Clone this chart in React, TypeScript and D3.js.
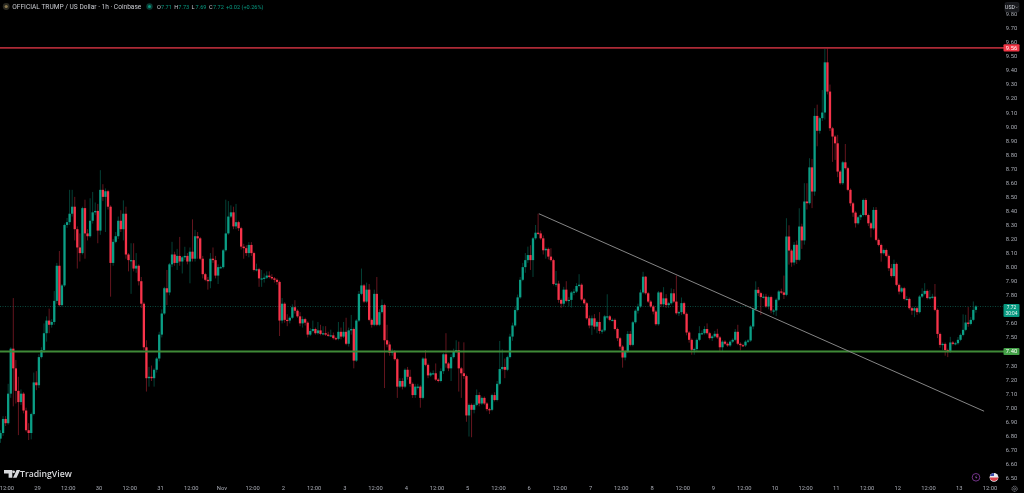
import React from "react";
import * as d3 from "d3";

const firstOpen = 6.78;
const closes = [
6.82,6.92,6.89,7.10,7.42,7.28,7.12,7.04,7.10,6.98,
6.84,6.82,6.955,7.18,7.16,7.36,7.41,7.53,7.62,7.59,
7.61,7.76,8.01,7.73,7.87,8.30,8.32,8.38,8.43,8.27,
8.14,8.10,8.42,8.24,8.22,8.33,8.39,8.40,8.26,8.55,
8.50,8.54,8.43,8.03,8.18,8.22,8.33,8.27,8.38,8.09,
8.05,8.05,7.99,8.01,7.90,7.74,7.43,7.21,7.22,7.21,
7.27,7.35,7.52,7.67,7.85,7.82,8.02,8.09,8.03,8.08,
8.04,8.07,8.08,8.04,8.11,8.06,8.22,8.205,8.06,7.95,
7.91,7.90,8.06,8.05,7.94,8.00,8.00,8.12,8.24,8.36,
8.39,8.29,8.32,8.277,8.146,8.135,8.10,8.158,8.10,7.98,
7.985,7.92,7.92,7.925,7.94,7.93,7.92,7.91,7.895,7.62,
7.74,7.625,7.62,7.64,7.715,7.69,7.65,7.60,7.63,7.605,
7.52,7.546,7.56,7.53,7.55,7.525,7.53,7.52,7.515,7.515,
7.495,7.49,7.54,7.506,7.54,7.455,7.55,7.56,7.335,7.62,
7.81,7.87,7.755,7.84,7.625,7.59,7.81,7.59,7.68,7.73,
7.48,7.45,7.39,7.40,7.345,7.15,7.19,7.15,7.27,7.22,
7.17,7.09,7.15,7.15,7.07,7.35,7.305,7.23,7.245,7.245,
7.20,7.19,7.26,7.38,7.315,7.28,7.36,7.40,7.41,7.28,
7.245,7.225,6.945,7.02,6.985,7.02,7.09,7.03,7.07,7.03,
6.99,6.985,7.09,7.055,7.17,7.275,7.29,7.27,7.36,7.506,
7.585,7.695,7.785,7.91,8.0,8.05,8.086,8.05,8.205,8.245,
8.24,8.205,8.12,8.13,8.075,8.05,7.88,7.883,7.767,7.74,
7.84,7.76,7.767,7.82,7.826,7.866,7.875,7.77,7.743,7.636,
7.585,7.636,7.577,7.61,7.546,7.55,7.65,7.65,7.625,7.625,
7.56,7.494,7.435,7.357,7.40,7.525,7.447,7.608,7.69,7.72,
7.82,7.932,7.814,7.755,7.72,7.684,7.594,7.82,7.736,7.778,
7.73,7.743,7.814,7.755,7.672,7.68,7.744,7.668,7.535,7.483,
7.412,7.417,7.483,7.53,7.53,7.56,7.53,7.495,7.507,7.526,
7.50,7.43,7.47,7.455,7.443,7.47,7.483,7.54,7.455,7.445,
7.443,7.47,7.478,7.578,7.70,7.839,7.815,7.787,7.79,7.72,
7.787,7.692,7.692,7.768,7.827,7.82,7.803,8.218,8.118,8.033,
8.159,8.052,8.289,8.19,8.467,8.455,8.71,8.538,9.076,8.97,
9.06,9.10,9.457,9.249,8.988,8.929,8.881,8.68,8.597,8.746,
8.704,8.55,8.454,8.388,8.312,8.355,8.371,8.478,8.371,8.312,
8.276,8.407,8.194,8.158,8.099,8.122,8.08,7.992,7.937,8.023,
7.874,7.826,7.85,7.774,7.774,7.708,7.691,7.708,7.68,7.791,
7.81,7.831,7.78,7.786,7.79,7.696,7.525,7.447,7.454,7.41,
7.40,7.464,7.454,7.459,7.483,7.518,7.554,7.606,7.596,7.625,7.696,7.72,
];
const upperWicks = [
.02,.02,.02,.07,.01,.36,.06,.10,.03,.01,
.02,.05,.01,.07,.08,.02,.02,.07,.03,.085,
.02,.07,.02,.105,.01,.01,.03,.17,.12,.07,
.02,.10,.01,.06,.03,.16,.145,.06,.05,.14,
.04,.02,.01,.01,.02,.03,.03,.075,.095,.05,
.01,.12,.12,.09,.01,.03,.01,.05,.07,.08,
.01,.01,.02,.03,.01,.13,.01,.09,.02,.05,
.135,.01,.065,.02,.03,.23,.045,.03,.01,.02,
.01,.02,.04,.08,.03,.02,.01,.01,.24,.11,
.05,.04,.13,.01,.01,.02,.02,.02,.02,.01,
.04,.01,.06,.03,.03,.03,.02,.01,.01,.01,
.04,.01,.04,.01,.02,.05,.01,.03,.02,.01,
.01,.02,.06,.01,.06,.04,.05,.05,.02,.04,
.02,.01,.07,.03,.07,.10,.02,.10,.01,.01,
.02,.12,.01,.05,.04,.01,.03,.12,.02,.04,
.01,.11,.02,.02,.01,.01,.02,.02,.01,.02,
.05,.01,.02,.02,.01,.01,.06,.01,.01,.02,
.07,.01,.02,.01,.15,.01,.02,.02,.07,.06,
.01,.22,.01,.01,.01,.01,.04,.02,.01,.01,
.01,.01,.01,.02,.02,.20,.125,.06,.01,.02,
.02,.02,.02,.02,.03,.05,.06,.07,.01,.055,
.135,.02,.02,.01,.01,.06,.01,.09,.02,.01,
.02,.06,.02,.01,.02,.02,.075,.01,.01,.01,
.02,.02,.03,.01,.07,.01,.01,.157,.01,.01,
.01,.01,.01,.01,.01,.02,.02,.01,.01,.02,
.02,.035,.005,.01,.01,.01,.01,.01,.005,.08,
.03,.01,.035,.03,.185,.01,.04,.01,.01,.01,
.01,.01,.01,.05,.02,.02,.04,.01,.01,.02,
.035,.01,.01,.01,.01,.01,.01,.02,.05,.01,
.01,.01,.01,.01,.01,.06,.02,.01,.02,.02,
.01,.01,.01,.01,.01,.02,.12,.13,.08,.01,
.02,.03,.13,.02,.13,.13,.065,.06,.055,.08,
.01,.16,.095,.10,.05,.01,.01,.06,.01,.01,
.13,.01,.01,.01,.01,.01,.01,.01,.012,.01,
.01,.02,.02,.01,.01,.01,.01,.01,.03,.03,
.01,.01,.01,.01,.02,.01,.01,.01,.01,.01,
.04,.055,.01,.05,.02,.09,.01,.01,.01,.01,
.01,.04,.01,.01,.02,.01,.11,.055,.11,.02,.06,.01,
];
const lowerWicks = [
.03,.02,.02,.01,.03,.27,.09,.235,.02,.02,
.01,.05,.045,.01,.035,.02,.01,.02,.06,.06,
.02,.02,.02,.01,.01,.01,.02,.02,.02,.08,
.15,.06,.01,.18,.03,.01,.02,.02,.09,.03,
.03,.25,.02,.24,.02,.01,.02,.02,.08,.03,
.08,.24,.02,.03,.03,.03,.02,.095,.06,.02,
.06,.02,.02,.02,.01,.09,.02,.02,.02,.05,
.03,.085,.02,.02,.155,.02,.02,.145,.01,.03,
.01,.06,.05,.02,.02,.06,.01,.01,.01,.01,
.01,.02,.02,.02,.02,.075,.02,.03,.02,.01,
.01,.06,.06,.03,.01,.01,.01,.02,.02,.11,
.02,.02,.04,.02,.01,.02,.01,.02,.03,.02,
.02,.01,.01,.01,.01,.01,.01,.01,.01,.01,
.01,.01,.01,.02,.01,.01,.02,.03,.055,.01,
.01,.01,.01,.01,.01,.02,.01,.01,.01,.01,
.34,.02,.02,.02,.01,.08,.01,.02,.01,.02,
.02,.02,.02,.02,.07,.01,.01,.02,.01,.01,
.01,.01,.01,.02,.03,.02,.09,.01,.01,.165,
.175,.02,.045,.15,.195,.025,.01,.02,.01,.01,
.015,.03,.01,.01,.01,.01,.01,.06,.01,.01,
.03,.01,.01,.01,.01,.04,.02,.07,.12,.01,
.01,.01,.03,.06,.02,.01,.01,.02,.02,.03,
.02,.01,.04,.055,.02,.01,.01,.01,.01,.01,
.02,.067,.02,.047,.02,.02,.01,.02,.01,.01,
.01,.02,.02,.072,.02,.01,.01,.01,.01,.02,
.01,.01,.01,.01,.01,.02,.01,.01,.02,.02,
.02,.02,.01,.01,.01,.02,.02,.01,.02,.02,
.035,.035,.02,.01,.01,.01,.01,.01,.02,.01,
.01,.03,.03,.01,.01,.01,.01,.01,.01,.038,
.01,.01,.01,.01,.02,.01,.02,.127,.01,.01,
.02,.02,.03,.04,.01,.01,.03,.01,.10,.03,
.02,.03,.01,.06,.03,.045,.01,.118,.03,.11,
.02,.02,.05,.02,.02,.18,.118,.04,.01,.012,
.01,.01,.02,.03,.03,.01,.02,.01,.01,.02,
.064,.01,.01,.01,.06,.01,.01,.02,.01,.01,
.01,.02,.01,.01,.01,.01,.03,.047,.02,.01,
.01,.01,.01,.01,.01,.01,.03,.02,.037,.04,
.04,.01,.01,.01,.01,.01,.01,.01,.02,.01,.01,.02,
];

// 7.40 and 7.70 sit behind the coloured price badges, as in the reference.
const priceTicks = ["6.50","6.60","6.70","6.80","6.90","7.00","7.10","7.20","7.30","7.50","7.60","7.80","7.90","8.00","8.10","8.20","8.30","8.40","8.50","8.60","8.70","8.80","8.90","9.00","9.10","9.20","9.30","9.40","9.50","9.60","9.70","9.80"];
const timeLabels = ["12:00","29","12:00","30","12:00","31","12:00","Nov","12:00","2","12:00","3","12:00","4","12:00","5","12:00","6","12:00","7","12:00","8","12:00","9","12:00","10","12:00","11","12:00","12","12:00","13","12:00"];
const resistance = 9.56;
const support = 7.40;
const lastPrice = 7.72;
const trendStart = { hour: 210.3, price: 8.38 };
const trendEnd = { hour: 384.2, price: 6.975 };
const ohlcLabels = [["O","7.71"],["H","7.73"],["L","7.69"],["C","7.72"]];

const W = 1024, H = 493;
const UP = "#0b9f86", DOWN = "#f7334a";
const FONT = "Roboto, 'Liberation Sans', sans-serif";
const x = d3.scaleLinear().domain([0, 381]).range([0.5, 975.9]);
const y = d3.scaleLinear().domain([6.5, 9.5]).range([478, 56.3]);

const candles = closes.map((c, i) => {
  const o = i === 0 ? firstOpen : closes[i - 1];
  return { i, o, c, h: Math.max(o, c) + upperWicks[i], l: Math.min(o, c) - lowerWicks[i] };
});

export default function App() {
  return (
    <svg width={W} height={H} viewBox={`0 0 ${W} ${H}`}
      style={{ position: "fixed", left: 0, top: 0, background: "#000", fontFamily: FONT, filter: "blur(0.3px)" }}>
      <rect width={W} height={H} fill="#000" />
      <line x1={0} x2={1003} y1={y(lastPrice)} y2={y(lastPrice)} stroke="#0b5a4d" strokeWidth={0.8} strokeDasharray="1 1.5" />
      {candles.map(d => {
        const col = d.c >= d.o ? UP : DOWN;
        const top = y(Math.max(d.o, d.c));
        const h = Math.max(1.2, Math.abs(y(d.o) - y(d.c)));
        return (
          <g key={d.i}>
            <line x1={x(d.i)} x2={x(d.i)} y1={y(d.h)} y2={y(d.l)} stroke={col} strokeOpacity={0.45} strokeWidth={0.9} />
            <rect x={x(d.i) - 1.15} width={2.3} y={top} height={h} fill={col} />
          </g>
        );
      })}
      <line x1={0} x2={1004} y1={y(resistance)} y2={y(resistance)} stroke="#ad2a36" strokeWidth={1.8} />
      <line x1={0} x2={1004} y1={y(support)} y2={y(support)} stroke="#3f8a37" strokeWidth={1.8} />
      <line x1={x(trendStart.hour)} y1={y(trendStart.price)} x2={x(trendEnd.hour)} y2={y(trendEnd.price)} stroke="#858585" strokeWidth={1} />

      {priceTicks.map(t => (
        <text key={t} x={1011.5} y={y(+t) + 2} fontSize={5.8} fill="#a9acb5" textAnchor="middle">{t}</text>
      ))}
      <rect x={1003.5} y={y(resistance) - 3.6} width={16} height={7.2} rx={1} fill="#f23645" />
      <text x={1011.5} y={y(resistance) + 2} fontSize={5.8} fill="#fff" textAnchor="middle">{resistance.toFixed(2)}</text>
      <rect x={1003.5} y={y(support) - 3.6} width={16} height={7.2} rx={1} fill="#43a047" />
      <text x={1011.5} y={y(support) + 2} fontSize={5.8} fill="#fff" textAnchor="middle">{support.toFixed(2)}</text>
      <rect x={1003.5} y={y(lastPrice) - 2.6} width={16} height={13.2} rx={1} fill="#089981" />
      <text x={1011.5} y={y(lastPrice) + 2.4} fontSize={4.8} fill="#fff" textAnchor="middle">{lastPrice.toFixed(2)}</text>
      <text x={1011.5} y={y(lastPrice) + 8.2} fontSize={4.8} fill="#e8f5f2" textAnchor="middle">30:04</text>

      <rect x={1005} y={2.5} width={14} height={9.5} rx={1.5} fill="#17181c" stroke="#2a2c32" strokeWidth={0.5} />
      <text x={1010} y={9.2} fontSize={5.2} fill="#d6d8de" textAnchor="middle">USD</text>
      <path d="M1015.6 6.6 l1.2 1.2 l1.2 -1.2" stroke="#aaa" strokeWidth={0.5} fill="none" />

      {timeLabels.map((t, k) => (
        <text key={k} x={x(2.5 + k * 12)} y={490} fontSize={5.8} fill="#a9acb5" textAnchor="middle">{t}</text>
      ))}

      <circle cx={6.2} cy={6.5} r={3.4} fill="#2b2a22" />
      <circle cx={6.2} cy={6.5} r={1.6} fill="#8c7a50" />
      <text x={12.3} y={9} fontSize={6.6} fill="#c9cbd1">OFFICIAL TRUMP / US Dollar · 1h · Coinbase</text>
      <circle cx={149.5} cy={6.5} r={3.2} fill="#0a3d35" />
      <circle cx={149.5} cy={6.5} r={1.5} fill="#089981" />
      {ohlcLabels.map(([k, v], n) => (
        <g key={k}>
          <text x={157 + n * 17.3} y={9} fontSize={5.6} fill="#c9cbd1">{k}</text>
          <text x={161 + n * 17.3} y={9} fontSize={5.6} fill="#089981">{v}</text>
        </g>
      ))}
      <text x={226} y={9} fontSize={5.6} fill="#089981">+0.02 (+0.26%)</text>

      <g fill="#d8d9dc">
        <path d="M4 470 h8.3 v7.7 h-3.7 v-4.3 h-4.6 z" />
        <circle cx={13.6} cy={471.8} r={1.4} />
        <path d="M16.6 470 h3.6 l-3.6 7.7 h-3.6 z" />
        <text x={20} y={477.4} fontSize={8.7} fontWeight={600} fontFamily="'Open Sans', sans-serif">TradingView</text>
      </g>

      <circle cx={976} cy={477.3} r={3.8} fill="none" stroke="#8e3fa8" strokeWidth={0.8} />
      <path d="M976.6 475 l-1.6 2.6 h1.4 l-0.8 2 l1.8 -2.7 h-1.3 z" fill="#a456c4" />
      <circle cx={994} cy={477.3} r={4.4} fill="#e9e9ef" />
      <path d="M989.7 477.5 a4.4 4.4 0 0 0 8.6 0 z" fill="#d8404a" />
      <path d="M990 476 a4.4 4.4 0 0 1 4 -3 v3 z" fill="#3a4aa8" />
      <circle cx={1014.6} cy={488.8} r={2.6} fill="none" stroke="#b2b5be" strokeWidth={0.7} strokeDasharray="1.2 0.5" />
      <circle cx={1014.6} cy={488.8} r={1} fill="none" stroke="#b2b5be" strokeWidth={0.5} />
    </svg>
  );
}
